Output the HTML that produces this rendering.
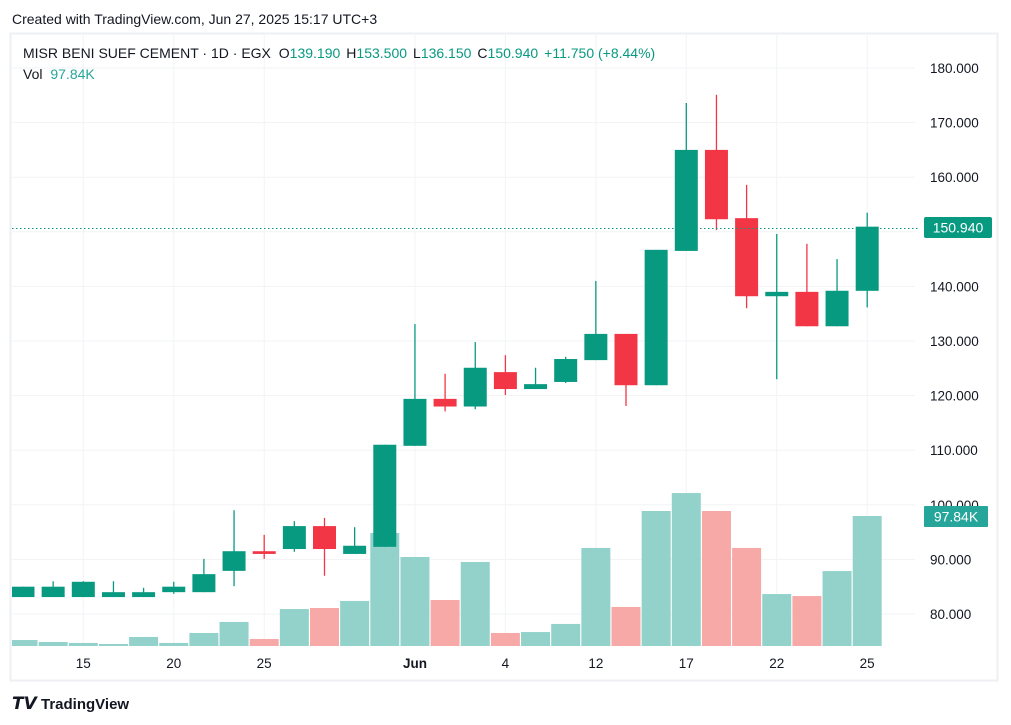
<!DOCTYPE html>
<html><head><meta charset="utf-8"><style>
body{margin:0;background:#fff;width:1011px;height:725px;overflow:hidden;font-family:"Liberation Sans",sans-serif}
svg{display:block}
</style></head><body>
<svg id="c" width="1011" height="725" xmlns="http://www.w3.org/2000/svg">
<defs><clipPath id="pane"><rect x="12" y="35" width="905" height="612"/></clipPath></defs>
<text x="12" y="24" font-size="14" fill="#131722">Created with TradingView.com, Jun 27, 2025 15:17 UTC+3</text>
<rect x="10.5" y="33.5" width="987" height="647" fill="none" stroke="#eeeff2" stroke-width="2"/>
<g id="grid"></g>
<g id="vol" clip-path="url(#pane)"></g>
<g id="candles" clip-path="url(#pane)"></g>
<line x1="12" x2="920" y1="228.5" y2="228.5" stroke="#089981" stroke-dasharray="1.5,2.5"/>
<g id="yaxis" font-size="13.5" fill="#131722"></g>
<g id="xaxis" font-size="13.5" fill="#131722"></g>
<rect x="924" y="217" width="68" height="21" rx="2" fill="#089981"/>
<text x="958" y="232.5" font-size="14" fill="#fff" text-anchor="middle">150.940</text>
<rect x="924" y="506" width="64" height="21" rx="1" fill="#26a69a"/>
<text x="956" y="521.5" font-size="14" fill="#fff" text-anchor="middle">97.84K</text>
<text x="23" y="58" font-size="14" fill="#131722">MISR BENI SUEF CEMENT · 1D · EGX <tspan dx="4">O</tspan><tspan fill="#089981">139.190</tspan><tspan dx="6">H</tspan><tspan fill="#089981">153.500</tspan><tspan dx="6">L</tspan><tspan fill="#089981">136.150</tspan><tspan dx="6">C</tspan><tspan fill="#089981">150.940</tspan><tspan dx="6" fill="#089981">+11.750 (+8.44%)</tspan></text>
<text x="23" y="79" font-size="14" fill="#131722">Vol <tspan dx="4" fill="#26a69a">97.84K</tspan></text>
<g>
<text x="12" y="709" font-size="17" font-weight="bold" fill="#131722">𝙏𝙑</text>
<text x="41" y="709" font-size="15" font-weight="bold" fill="#131722">TradingView</text>
</g>
</svg>
<script>
const opens=[83.1,83.1,83.1,83.1,83.1,84.0,84.0,87.9,91.5,91.9,96.1,91.0,92.3,110.8,119.4,118.0,124.3,121.2,122.5,126.5,131.3,121.9,146.5,165.0,152.5,138.2,139.0,132.7,139.19];
const highs=[85.0,86.0,86.0,86.0,84.8,85.9,90.1,99.0,94.5,97.0,97.6,95.9,111.0,133.1,124.0,129.8,127.4,125.1,127.1,141.0,131.3,146.7,173.6,175.1,158.6,149.6,147.8,145.0,153.5];
const lows=[83.1,83.1,83.1,83.1,83.1,83.7,84.0,85.1,90.1,91.4,87.0,91.0,92.3,110.8,117.1,117.5,120.1,121.2,122.3,126.5,118.1,121.9,146.5,150.3,136.0,123.0,132.7,132.7,136.15];
const closes=[85.0,85.0,85.9,84.0,84.0,85.0,87.3,91.5,91.0,96.1,91.9,92.5,111.0,119.4,118.0,125.1,121.2,122.1,126.7,131.3,121.9,146.7,165.0,152.3,138.2,139.0,132.7,139.2,150.94];
const volumes=[4.5,3.0,2.3,1.5,6.8,2.3,9.8,18.1,5.3,27.8,28.6,33.9,85.0,67.0,34.6,63.2,9.8,10.5,16.6,73.8,29.4,101.6,115.1,101.6,73.8,39.1,37.6,56.4,97.84];
const priceTicks=[80,90,100,110,120,130,140,150,160,170,180];
const timeLabels=[[2,"15"],[5,"20"],[8,"25"],[13,"Jun"],[16,"4"],[19,"12"],[22,"17"],[25,"22"],[28,"25"]];
const NS="http://www.w3.org/2000/svg";
const X=i=>23+i*30.15;
const Y=p=>68+(180-p)*5.46;
const VY=v=>646-v*(130/97.84);
function mk(tag,attrs,parent){const e=document.createElementNS(NS,tag);for(const k in attrs)e.setAttribute(k,attrs[k]);document.getElementById(parent).appendChild(e);return e;}
priceTicks.forEach(p=>{
 const g=mk('line',{x1:12,x2:915,y1:Y(p),y2:Y(p),stroke:'#f2f3f5'},'grid');
 
 
 const t=mk('text',{x:930,y:Y(p)+5},'yaxis');t.textContent=p.toFixed(3);
 
 
});
timeLabels.forEach(([i,l])=>{
 const g=mk('line',{x1:X(i),x2:X(i),y1:35,y2:646,stroke:'#f2f3f5'},'grid');
 
 
 const t=mk('text',{x:X(i),y:668,'text-anchor':'middle','font-weight':l==='Jun'?'bold':'normal'},'xaxis');t.textContent=l;
 
 
});
volumes.forEach((v,i)=>{
 const up=closes[i]>=opens[i];
 const r=mk('rect',{x:X(i)-14.5,y:VY(v),width:29,height:646-VY(v),fill:up?'#92d2cb':'#f7a9a7'},'vol');
 
 
});
opens.forEach((o,i)=>{
 const c=closes[i],up=c>=o,col=up?'#089981':'#f23645';
 const w=mk('line',{x1:X(i),x2:X(i),y1:Y(highs[i]),y2:Y(lows[i]),stroke:col,'stroke-width':1.3},'candles');
 
 
 const top=Y(Math.max(o,c)),h=Math.max(2,Math.abs(Y(o)-Y(c)));
 const b=mk('rect',{x:X(i)-11.5,y:top,width:23,height:h,fill:col},'candles');
 
 
});
</script>
</body></html>
